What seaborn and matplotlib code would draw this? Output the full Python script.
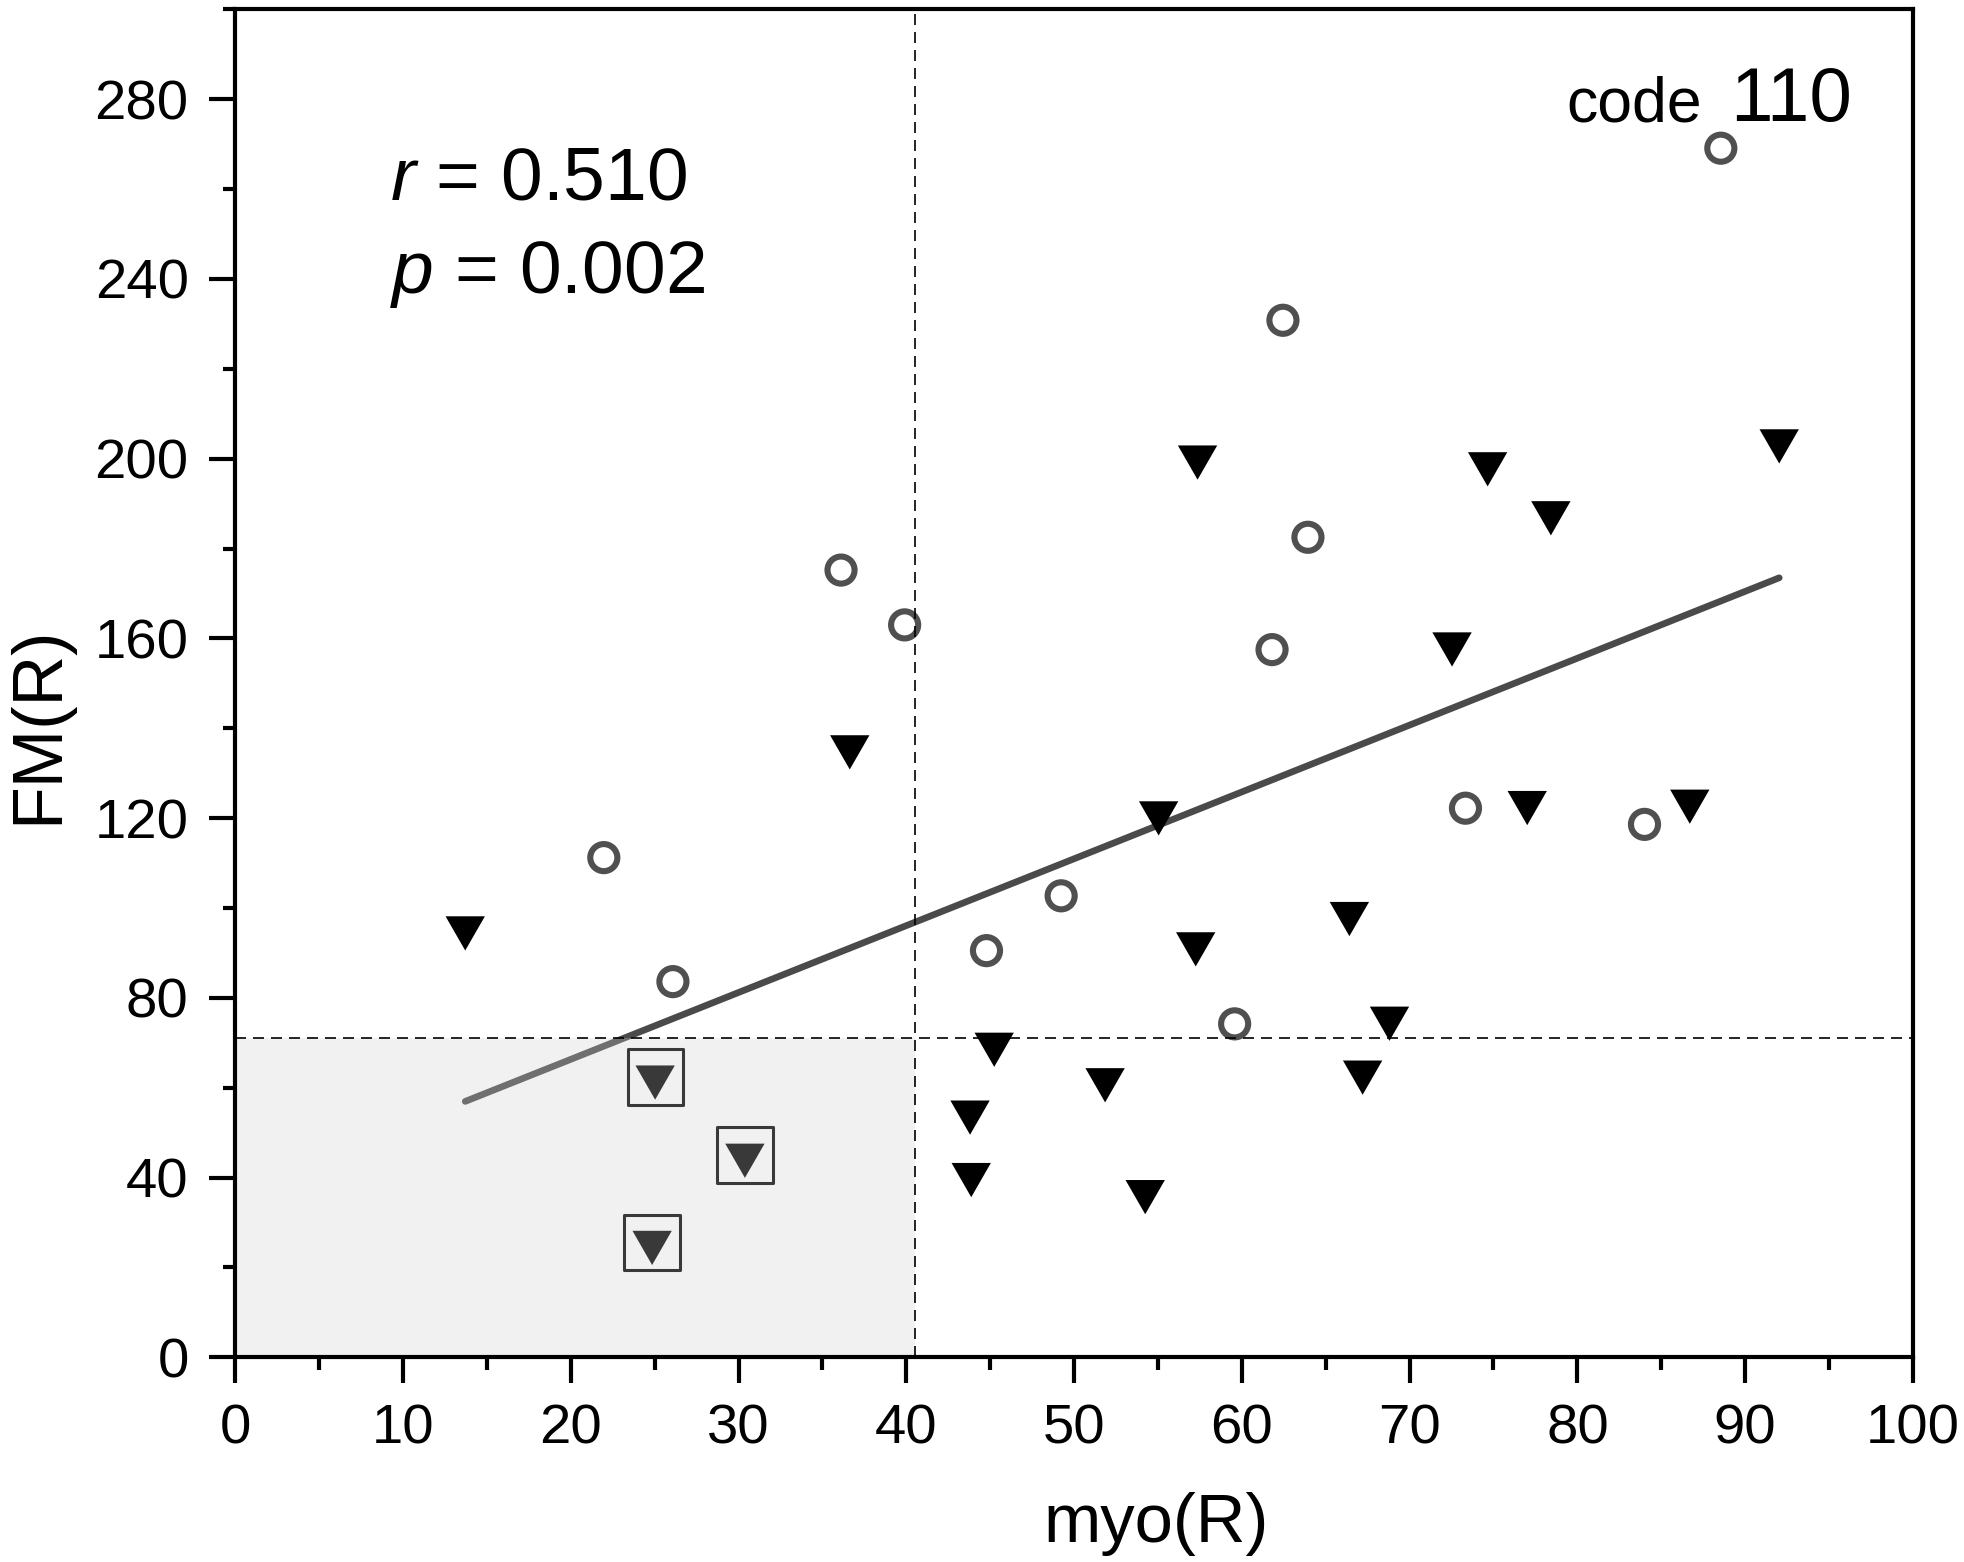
import numpy as np
import pandas as pd
import matplotlib
matplotlib.use("Agg")
import matplotlib.pyplot as plt
from matplotlib.path import Path
from matplotlib.patches import Rectangle
from matplotlib.ticker import MultipleLocator
import seaborn as sns

# ---------------- data ----------------
circle_x = [21.97, 26.09, 36.11, 39.90, 44.78, 49.23, 59.57, 61.80, 62.45, 63.94, 73.33, 84.00, 88.55]
circle_y = [111.2, 83.6, 175.2, 163.0, 90.5, 102.7, 74.2, 157.5, 230.8, 182.5, 122.2, 118.6, 269.1]

tri_x = [13.71, 36.63, 25.03, 30.38, 24.85, 43.80, 43.87, 45.24, 51.85, 54.24, 55.04,
         57.36, 57.25, 66.41, 67.20, 68.80, 72.53, 74.65, 77.01, 78.42, 86.70, 92.03]
tri_y = [95.6, 135.9, 62.4, 45.0, 25.6, 54.6, 40.7, 69.7, 61.8, 36.9, 121.2,
         200.4, 92.05, 98.8, 63.5, 75.5, 158.8, 198.9, 123.5, 188.0, 123.8, 204.0]
tri_boxed = [False, False, True, True, True, False, False, False, False, False, False,
             False, False, False, False, False, False, False, False, False, False, False]

fit_slope = 1.488
fit_intercept = 36.54

cut_x = 40.5
cut_y = 71.0

x_label = "myo(R)"
y_label = "FM(R)"
r_text = r"$\mathit{r}$ = 0.510"
p_text = r"$\mathit{p}$ = 0.002"
code_word = "code"
code_num = "110"

xticks = list(range(0, 101, 10))
yticks = list(range(0, 281, 40))

# ---------------- style ----------------
sns.set_style("ticks")
plt.rcParams["font.family"] = ["Liberation Sans", "DejaVu Sans"]
plt.rcParams["mathtext.fontset"] = "custom"
plt.rcParams["mathtext.rm"] = "Liberation Sans"
plt.rcParams["mathtext.it"] = "Liberation Sans:italic"
for key in ["text.color", "axes.labelcolor", "xtick.color", "ytick.color", "axes.edgecolor"]:
    plt.rcParams[key] = "black"

circles = pd.DataFrame({"x": circle_x, "y": circle_y})
tris = pd.DataFrame({"x": tri_x, "y": tri_y, "boxed": tri_boxed})
boxed = tris[tris["boxed"]]

fig = plt.figure(figsize=(19.65, 15.62), dpi=100)
ax = fig.add_axes([0.1197, 0.1311, 0.8538, 0.8629])

# regression line
all_x = np.array(circle_x + tri_x)
fx = np.array([all_x.min(), all_x.max()])
fy = fit_intercept + fit_slope * fx
ax.plot(fx, fy, color="#4a4a4a", lw=4.8, solid_capstyle="round", zorder=2)

# markers
tri_marker = Path([(-1, 0.58), (1, 0.58), (0, -1.16), (-1, 0.58)],
                  [Path.MOVETO, Path.LINETO, Path.LINETO, Path.CLOSEPOLY])
sns.scatterplot(data=circles, x="x", y="y", ax=ax, marker="o", s=380,
                facecolor="none", edgecolor="#505050", linewidth=4.4, zorder=3)
sns.scatterplot(data=tris, x="x", y="y", ax=ax, marker=tri_marker, s=1080,
                color="black", edgecolor="none", linewidth=0, zorder=3)
sns.scatterplot(data=boxed, x="x", y="y", ax=ax, marker="s", s=1584,
                facecolor="none", edgecolor="black", linewidth=2.2, zorder=3)

# translucent shaded quadrant
ax.add_patch(Rectangle((0, 0), cut_x, cut_y, facecolor="#d0d0d0", alpha=0.278,
                       edgecolor="none", zorder=4))

# dashed cut lines
dash = (0, (6.6, 4.2))
ax.axvline(cut_x, color="black", lw=1.2, ls=dash, zorder=5)
ax.axhline(cut_y, color="black", lw=1.2, ls=dash, zorder=5)

# axes
ax.set_xlim(0, 100)
ax.set_ylim(0, 300)
ax.set_xticks(xticks)
ax.set_yticks(yticks)
ax.xaxis.set_minor_locator(MultipleLocator(5))
ax.yaxis.set_minor_locator(MultipleLocator(20))
ax.tick_params(axis="both", which="major", direction="out", length=19, width=3,
               labelsize=40.5, pad=14.5, color="black", labelcolor="black")
ax.tick_params(axis="both", which="minor", direction="out", length=9, width=3, color="black")
ax.tick_params(top=False, right=False, which="both")
for sp in ax.spines.values():
    sp.set_visible(True)
    sp.set_linewidth(3)
    sp.set_color("black")
    sp.set_zorder(6)

ax.set_xlabel(x_label, fontsize=49.5, labelpad=26)
ax.set_ylabel(y_label, fontsize=50.5, labelpad=16)
ax.xaxis.label.set_x(0.549)
ax.yaxis.label.set_y(0.469)

# annotations
ax.text(9.2, 257.6, r_text, fontsize=54, ha="left", va="baseline", zorder=7)
ax.text(9.2, 236.9, p_text, fontsize=54, ha="left", va="baseline", zorder=7)
ax.text(79.36, 275.1, code_word, fontsize=45, ha="left", va="baseline", zorder=7)
ax.text(96.35, 275.1, code_num, fontsize=55, ha="right", va="baseline", zorder=7)

fig.savefig("out.png", dpi=100)
